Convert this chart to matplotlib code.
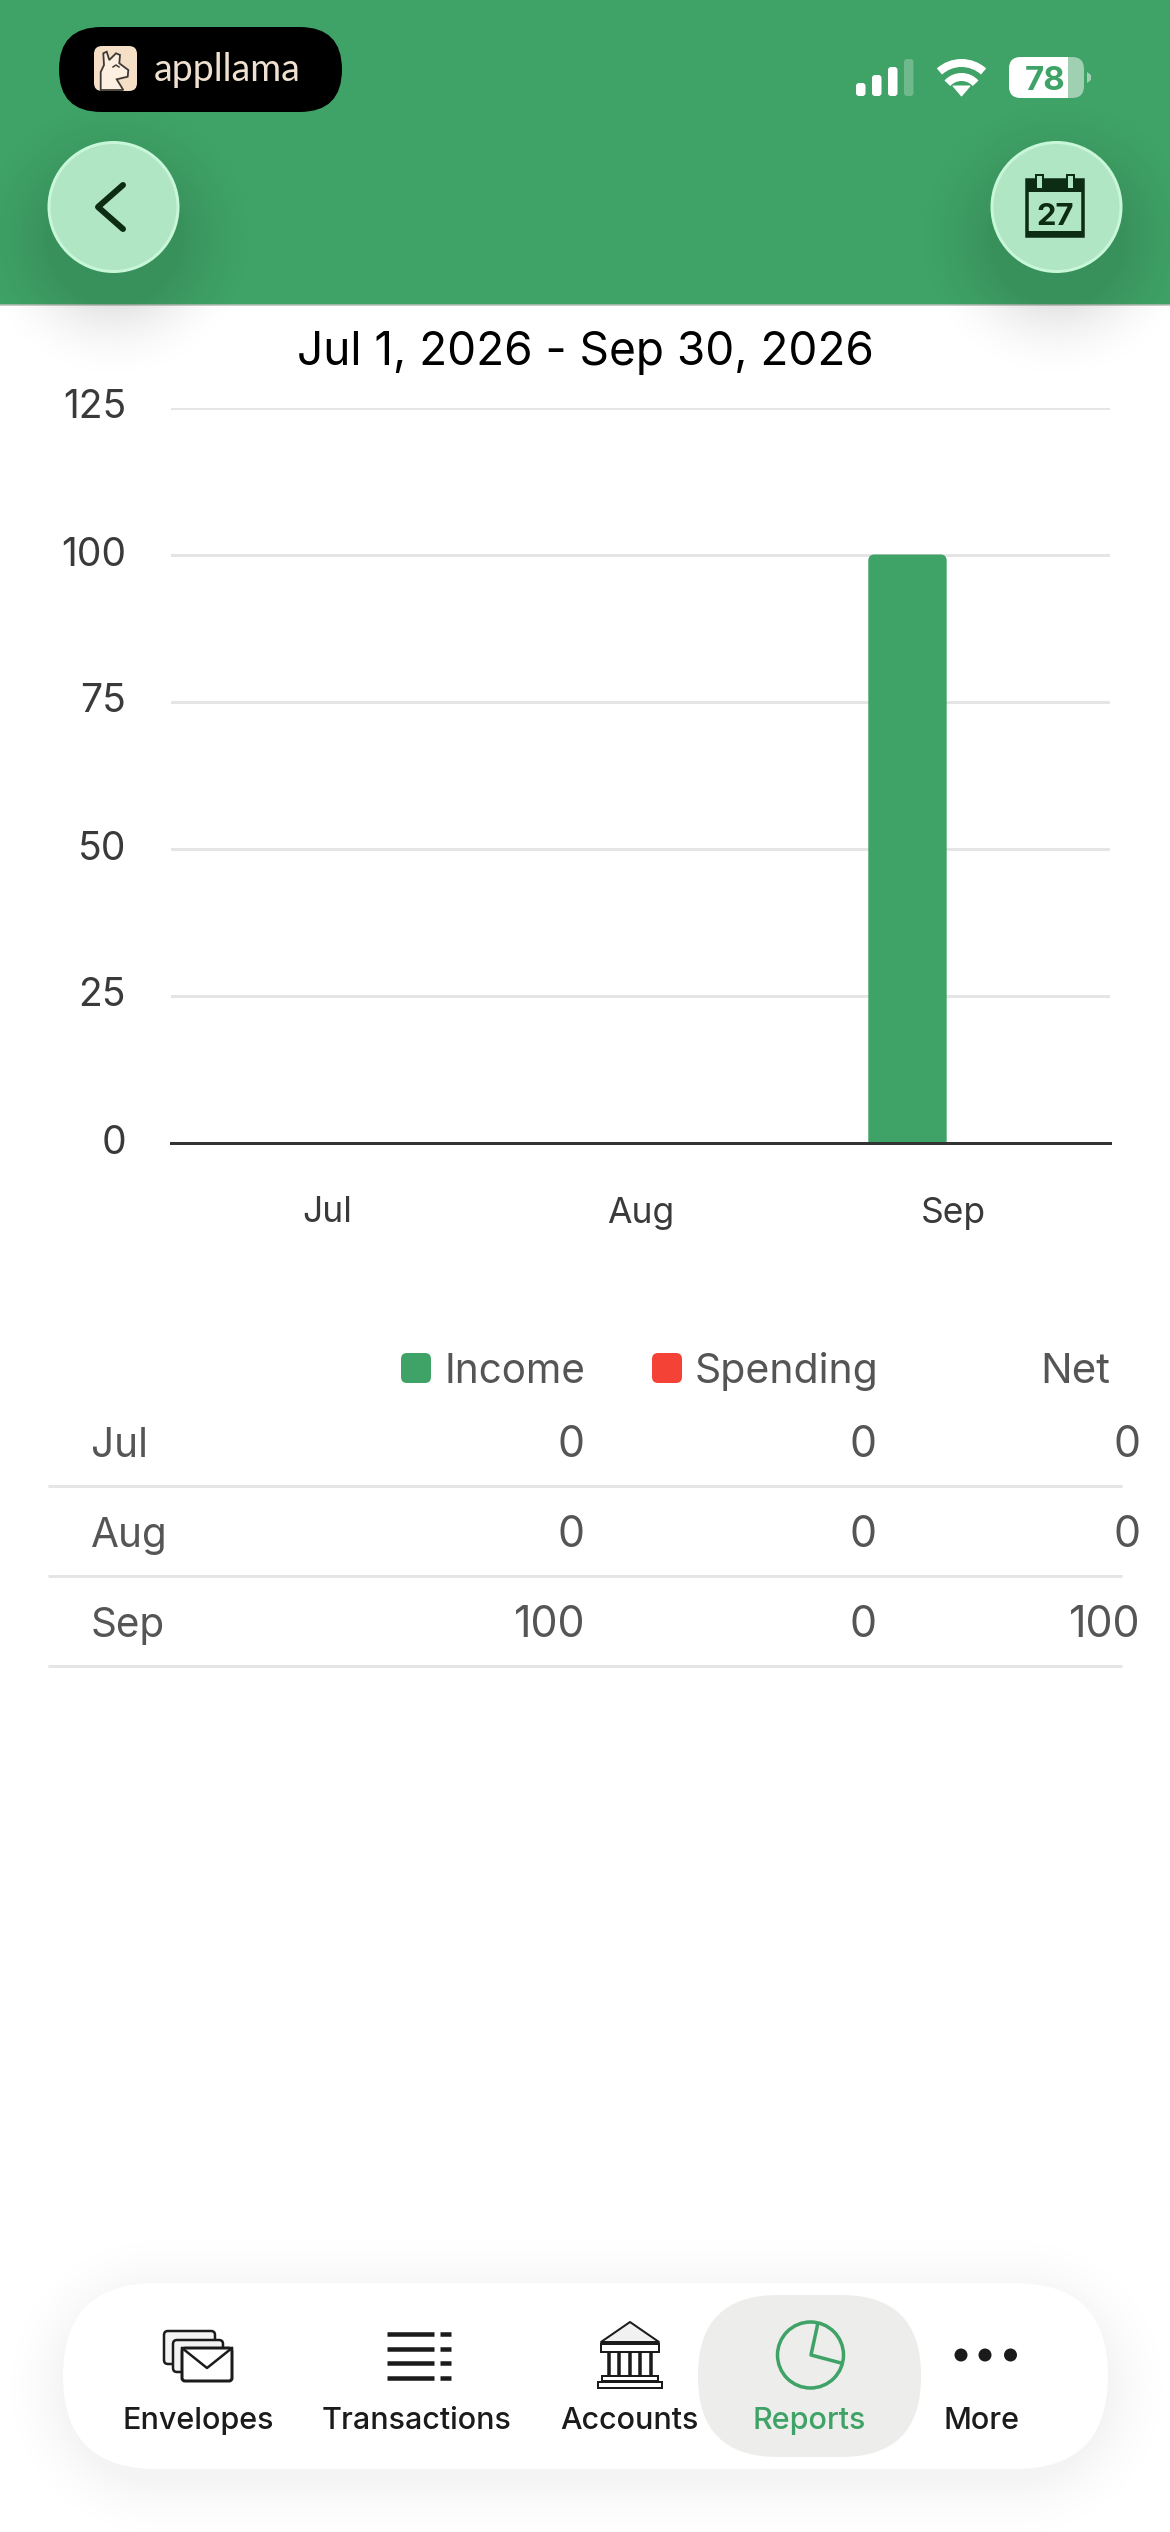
import matplotlib
matplotlib.use("Agg")
import matplotlib.pyplot as plt
import numpy as np
from matplotlib.patches import Circle, FancyBboxPatch, Polygon, Rectangle, Arc
from matplotlib.transforms import ScaledTranslation

plt.rcParams['font.family'] = ['Inter', 'DejaVu Sans']

# data
months = ["Jul", "Aug", "Sep"]
income = [0, 0, 100]
spending = [0, 0, 0]
net = [0, 0, 100]
y_ticks = [0, 25, 50, 75, 100, 125]
series_names = ["Income", "Spending", "Net"]
nav_labels = ["Envelopes", "Transactions", "Accounts", "Reports", "More"]
date_range = "Jul 1, 2026 - Sep 30, 2026"

GREEN = "#3fa266"
RED = "#f44336"
TEXT = "#555555"
LINE = "#e5e5e5"
DARK = "#0d2c14"
INK = "#1b1b1b"

W, H = 1170, 2532
fig = plt.figure(figsize=(W / 100, H / 100), dpi=100, facecolor="white")

# page layer in pixel coordinates
bg = fig.add_axes([0, 0, 1, 1], zorder=0)
bg.set_xlim(0, W)
bg.set_ylim(H, 0)
bg.axis("off")


def px(v):
    return v * 0.72


def rrect(x0, y0, x1, y1, r, ax=bg, **kw):
    p = FancyBboxPatch((x0 + r, y0 + r), x1 - x0 - 2 * r, y1 - y0 - 2 * r,
                       boxstyle=f"round,pad={r},rounding_size={r}", **kw)
    ax.add_patch(p)
    return p


def shadow(x0, y0, x1, y1, r, strength, spread, zorder):
    # soft drop shadow, distance falloff from a rounded box
    ex0, ex1 = max(0, x0 - spread), min(W, x1 + spread)
    ey0, ey1 = max(0, y0 - spread), min(H, y1 + spread)
    xx, yy = np.meshgrid(np.arange(ex0, ex1, 2.0), np.arange(ey0, ey1, 2.0))
    cx, cy = (x0 + x1) / 2, (y0 + y1) / 2
    qx = np.abs(xx - cx) - ((x1 - x0) / 2 - r)
    qy = np.abs(yy - cy) - ((y1 - y0) / 2 - r)
    d = np.hypot(np.maximum(qx, 0), np.maximum(qy, 0)) + np.minimum(np.maximum(qx, qy), 0) - r
    img = np.zeros(xx.shape + (4,))
    img[..., 3] = strength * np.clip(1 - d / spread, 0, 1) ** 2
    bg.imshow(img, extent=(ex0, ex1, ey1, ey0), aspect="auto", zorder=zorder, interpolation="bilinear")


# header
bg.add_patch(Rectangle((0, 0), W, 304.5, fc=GREEN, ec="none", zorder=1))
bg.plot([0, W], [305, 305], color="#b9bdb9", lw=px(1.5), zorder=2)

# round buttons with their shadows
for cx in (113.5, 1056.5):
    shadow(cx - 65, 172, cx + 65, 302, 65, 0.11, 85, 3)
    bg.add_patch(Circle((cx, 207), 64.5, fc="#b1e6c4", ec="#c8f6d8", lw=px(3), zorder=4))

# back chevron
bg.plot([123, 98, 123], [185, 207, 229], color=DARK, lw=px(6), solid_capstyle="round", zorder=5)

# calendar icon
bg.add_patch(Rectangle((1027, 180), 56, 56, fc="none", ec=DARK, lw=px(3.5), zorder=5))
bg.add_patch(Rectangle((1027, 180), 56, 12, fc=DARK, ec="none", zorder=5))
bg.add_patch(Rectangle((1027, 231), 56, 6, fc=DARK, ec="none", zorder=5))
for rx in (1039, 1070):
    bg.add_patch(Rectangle((rx - 3.5, 175), 7, 14, fc="#b1e6c4", ec=DARK, lw=px(2), zorder=6))
bg.text(1055.5, 225, "27", ha="center", va="baseline", fontsize=px(31), weight="bold", color=DARK, zorder=6)

# app pill
rrect(59, 27, 342, 112, 42.5, fc="black", ec="none", zorder=5)
rrect(94, 46, 137, 91, 8, fc="#f5dfc6", ec="none", zorder=6)
llama = [(100.7, 90), (100.7, 72), (104, 65), (103.3, 53.3), (106.7, 51.7), (109.3, 60), (116, 53.3),
         (120, 55), (119.3, 63.3), (128.3, 70), (127.7, 76.7), (116.7, 79.3), (123.3, 90)]
bg.add_patch(Polygon(llama, closed=True, fc="#fdf0e0", ec="#3f3a36", lw=px(1.8), zorder=7))
bg.plot([113, 116, 119], [67, 65, 67], color="#3f3a36", lw=px(1.5), zorder=8)
bg.text(227.5, 81, "appllama", ha="center", va="baseline", fontsize=px(37.5), color="#efe0cf",
        family="Lato", zorder=6)

# status bar
sig_x = [856, 872, 888, 904]
sig_top = [83, 75, 67, 59]
for i, (sx, st) in enumerate(zip(sig_x, sig_top)):
    rrect(sx, st, sx + 9.5, 96, 3, fc="white", ec="none", alpha=1 if i < 3 else 0.25, zorder=5)
bg.add_patch(Arc((961.5, 96), 66, 66, theta1=228, theta2=312, color="white", lw=px(8), zorder=5))
bg.add_patch(Arc((961.5, 96), 38, 38, theta1=222, theta2=318, color="white", lw=px(8), zorder=5))
bg.add_patch(Polygon([(953, 86), (970, 86), (961.5, 96)], closed=True, fc="white", ec="white",
                     lw=px(1), joinstyle="round", zorder=5))
rrect(1009, 57, 1084, 98, 12, fc="white", ec="none", alpha=0.5, zorder=5)
b = rrect(1009, 57, 1084, 98, 12, fc="white", ec="none", zorder=6)
b.set_clip_path(Rectangle((1009, 50), 58.7, 55, transform=bg.transData))
bg.add_patch(Polygon([(1087, 72), (1091, 75), (1091, 80), (1087, 83)], closed=True, fc="white",
                     ec="none", alpha=0.5, zorder=5))
bg.text(1045, 90, "78", ha="center", va="baseline", fontsize=px(33), weight="bold", color=GREEN, zorder=7)

# title
bg.text(585, 365, date_range, ha="center", va="baseline", fontsize=px(46), color="black", zorder=5)

# chart, axes box set to the plot area in pixels
left, right, top, bottom = 171, 1110, 407.5, 1142.5
ax = fig.add_axes([left / W, 1 - bottom / H, (right - left) / W, (bottom - top) / H],
                  zorder=2, facecolor="none")
pos = list(range(len(months)))
bw = 0.2505
off = 0.147
ax.set_xlim(-0.5, 2.5)
ax.set_ylim(0, 125)
ax.set_axisbelow(True)
ax.yaxis.grid(True, color=LINE, lw=px(3))
ax.xaxis.grid(False)
bars1 = ax.bar([p - off for p in pos], income, bw, color=GREEN)
bars2 = ax.bar([p + off for p in pos], spending, bw, color=RED)

# swap the square bars for ones with rounded tops, bottoms get clipped at the axis
for bar in list(bars1) + list(bars2):
    if bar.get_height() <= 0:
        continue
    x0, w, h = bar.get_x(), bar.get_width(), bar.get_height()
    rx = 0.02
    aspect = (125 / (bottom - top)) / (3 / (right - left))
    p = FancyBboxPatch((x0 + rx, rx * aspect - 5), w - 2 * rx, h + 5 - 2 * rx * aspect,
                       boxstyle=f"round,pad={rx},rounding_size={rx}", mutation_aspect=aspect,
                       fc=bar.get_facecolor(), ec="none", zorder=2)
    ax.add_patch(p)
    bar.set_visible(False)

for s in ("top", "left", "right"):
    ax.spines[s].set_visible(False)
ax.spines["bottom"].set_color("#333333")
ax.spines["bottom"].set_linewidth(px(3))
ax.set_yticks(y_ticks)
ax.set_xticks(pos)
ax.set_xticklabels(months)
ax.tick_params(axis="y", length=0, pad=px(45), labelsize=px(39), labelcolor="#3a3a3a")
ax.tick_params(axis="x", length=0, pad=px(54), labelsize=px(35.5), labelcolor="#3a3a3a")
# y labels sit a little above their gridlines
lift = ScaledTranslation(0, 3.5 / 100, fig.dpi_scale_trans)
for t in ax.get_yticklabels():
    t.set_transform(t.get_transform() + lift)

# table header
head_y = 1383
rrect(401, 1353, 431, 1383, 6, fc=GREEN, ec="none", zorder=5)
rrect(652, 1353, 682, 1383, 6, fc=RED, ec="none", zorder=5)
bg.text(444, head_y, series_names[0], ha="left", va="baseline", fontsize=px(40.5), color=TEXT, zorder=5)
bg.text(695, head_y, series_names[1], ha="left", va="baseline", fontsize=px(41), color=TEXT, zorder=5)
bg.text(1110, head_y, series_names[2], ha="right", va="baseline", fontsize=px(42), color=TEXT, zorder=5)

# table rows
row_y = [1457, 1547, 1637]
rule_y = [1486, 1576, 1666]
for i, m in enumerate(months):
    bg.text(91, row_y[i], m, ha="left", va="baseline", fontsize=px(40.5), color=TEXT, zorder=5)
    bg.text(585, row_y[i], str(income[i]), ha="right", va="baseline", fontsize=px(43), color=TEXT, zorder=5)
    bg.text(877, row_y[i], str(spending[i]), ha="right", va="baseline", fontsize=px(43), color=TEXT, zorder=5)
    bg.text(1140, row_y[i], str(net[i]), ha="right", va="baseline", fontsize=px(43), color=TEXT, zorder=5)
    bg.plot([48, 1122], [rule_y[i]] * 2, color=LINE, lw=px(3), zorder=4, solid_capstyle="butt")

# bottom nav
shadow(63, 2293, 1108, 2479, 93, 0.045, 75, 3)
rrect(63, 2283, 1108, 2469, 93, fc="white", ec="none", zorder=4)
rrect(698, 2295, 921, 2457, 80, fc="#ededeb", ec="none", zorder=5)

nav_x = [198, 417, 629.5, 809, 982]
for lab, nx in zip(nav_labels, nav_x):
    c = GREEN if lab == "Reports" else INK
    bg.text(nx, 2429, lab, ha="center", va="baseline", fontsize=px(30.5), weight="medium", color=c, zorder=6)

# envelopes icon
rrect(164, 2331, 215, 2364, 4, fc="#f3f3f3", ec=INK, lw=px(2.5), zorder=6)
rrect(173, 2340, 223, 2372, 4, fc="#f3f3f3", ec=INK, lw=px(2.5), zorder=7)
rrect(182, 2348, 232, 2381, 3, fc="white", ec=INK, lw=px(3), zorder=8)
bg.plot([182, 207, 232], [2348, 2368, 2348], color=INK, lw=px(2.5), zorder=9)

# transactions icon
for ly in (2334, 2349, 2363, 2378):
    bg.plot([387, 434], [ly, ly], color=INK, lw=px(4.5), zorder=6, solid_capstyle="butt")
    bg.plot([440, 451], [ly, ly], color=INK, lw=px(4.5), zorder=6, solid_capstyle="butt")

# accounts icon
bg.add_patch(Polygon([(630, 2322), (659, 2342), (601, 2342)], closed=True, fc="#f1f1f1", ec=INK,
                     lw=px(2), joinstyle="round", zorder=6))
bg.add_patch(Rectangle((601, 2344), 58, 8, fc="white", ec=INK, lw=px(2), zorder=6))
for cx in (609, 619, 630, 640, 651):
    bg.plot([cx, cx], [2353, 2376], color=INK, lw=px(3.5), zorder=6)
bg.add_patch(Rectangle((602, 2376), 56, 5, fc="white", ec=INK, lw=px(2), zorder=6))
bg.add_patch(Rectangle((598, 2382), 64, 6, fc="white", ec=INK, lw=px(2), zorder=6))

# reports icon
bg.add_patch(Circle((810.5, 2355), 33, fc="none", ec=GREEN, lw=px(3.5), zorder=6))
bg.plot([817.5, 811, 841], [2325, 2355, 2363], color=GREEN, lw=px(3.5), zorder=6)

# more icon
for dx in (961, 985, 1010.5):
    bg.add_patch(Circle((dx, 2355), 6.5, fc=INK, ec="none", zorder=6))

bg.set_xlim(0, W)
bg.set_ylim(H, 0)
fig.savefig("out.png", dpi=100)
